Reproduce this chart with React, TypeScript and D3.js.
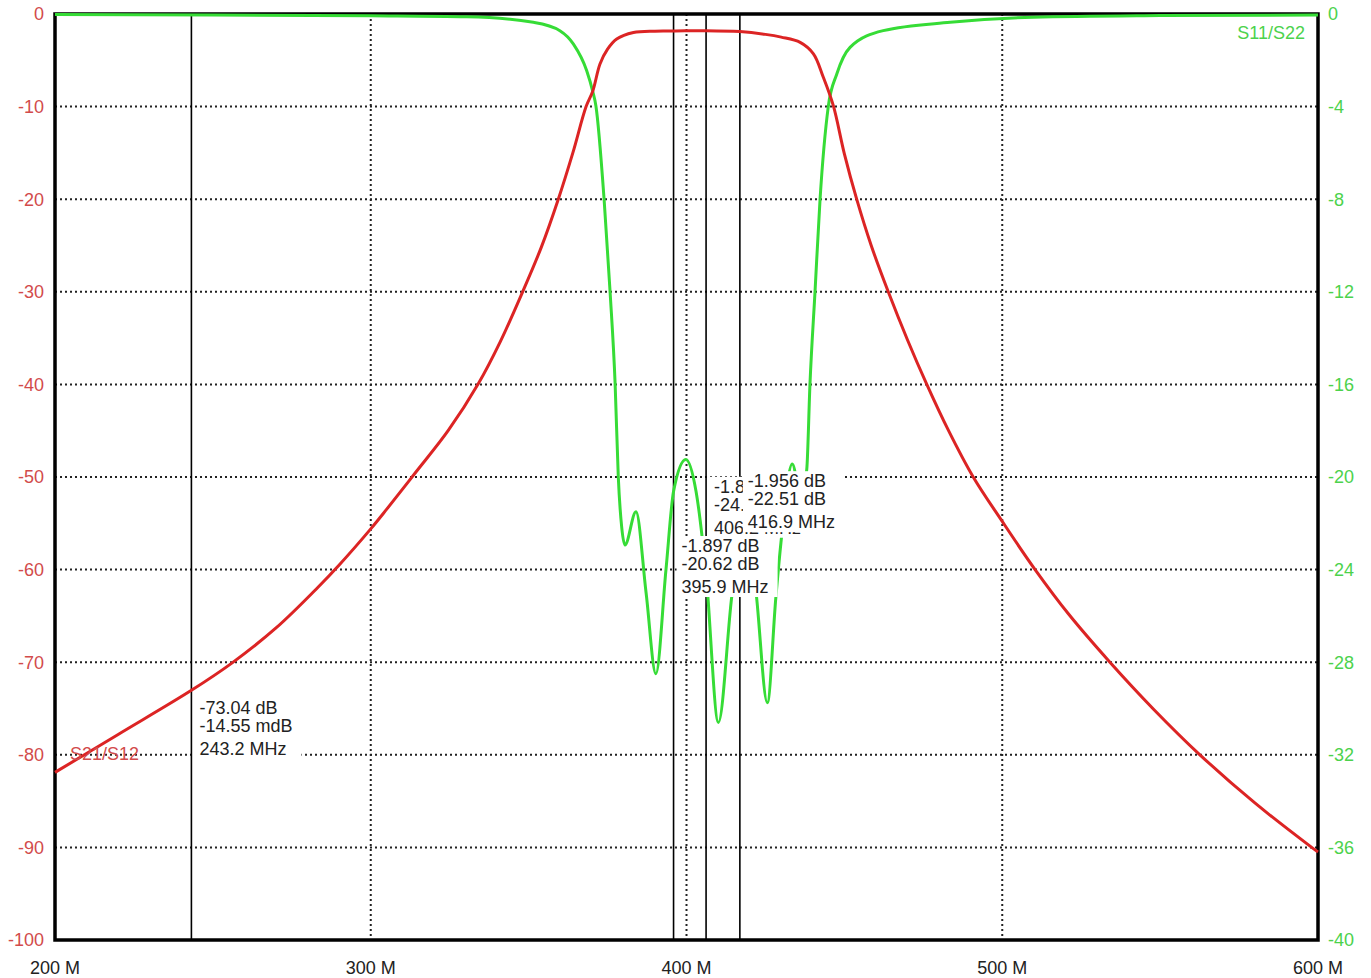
import { useEffect, useRef } from "react";
import * as d3 from "d3";

// S21/S12 transmission (left axis, dB)
const s21Freq = [200, 220, 243.2, 256, 270, 283.3, 290, 300, 305, 314, 324.5, 334.1, 341, 348.1, 354, 359.4, 364, 368.2, 370.3, 372.6, 375, 377.9, 383.2, 390, 395.9, 406.2, 416.9, 425, 430, 436, 440.2, 443.3, 446.5, 450, 453.9, 458.5, 463.9, 470, 476.1, 483, 490.8, 500, 510.4, 521, 534.1, 548, 562.6, 580, 598, 600];
const s21Db = [-81.9, -77.8, -73.04, -70.1, -66.3, -61.9, -59.5, -55.6, -53.5, -49.6, -45.0, -39.9, -35.4, -30, -25.2, -20, -15.0, -10, -8.35, -5.4, -3.8, -2.7, -2.0, -1.85, -1.84, -1.8, -1.9, -2.2, -2.5, -3.06, -4.3, -6.8, -9.9, -15.1, -20, -25.0, -30, -35.2, -40, -45.0, -50, -54.8, -60, -64.8, -70, -75.1, -80, -85.2, -90, -90.5];

// S11/S22 return loss (right axis, dB)
const s11Freq = [200, 250, 300, 330.4, 351.5, 359.9, 364.2, 368.4, 370.3, 371.3, 373.9, 375.8, 377.4, 378.4, 379.5, 380.5, 384.0, 387.2, 390.3, 393.5, 395.9, 399.8, 403, 406.2, 410.1, 414.3, 416.9, 419.4, 422.2, 425.6, 428.3, 429.9, 433.5, 436.3, 438.1, 439.1, 440.7, 442.3, 444.9, 447.6, 451.8, 462.3, 483.5, 509.8, 550, 600];
const s11Db = [-0.02, -0.04, -0.08, -0.12, -0.36, -0.72, -1.3, -2.45, -3.34, -3.96, -8.0, -12, -16, -20, -22.2, -22.94, -21.5, -25, -28.5, -24, -20.62, -19.24, -20.6, -24.2, -30.6, -25.2, -22.51, -21.6, -25.2, -29.75, -25.2, -22.85, -19.44, -21, -19.65, -16, -12, -8, -4, -2.59, -1.44, -0.72, -0.36, -0.14, -0.07, -0.04];

const xTicks = [200, 300, 400, 500, 600];
const xGrid = [300, 400, 500];
const leftTicks = [0, -10, -20, -30, -40, -50, -60, -70, -80, -90, -100];
const rightTicks = [0, -4, -8, -12, -16, -20, -24, -28, -32, -36, -40];

// markers, in drawing order
const markerFreq = [243.2, 406.2, 416.9, 395.9];
const markerLine1 = ["-73.04 dB", "-1.842 dB", "-1.956 dB", "-1.897 dB"];
const markerLine2 = ["-14.55 mdB", "-24.37 dB", "-22.51 dB", "-20.62 dB"];
const markerLine3 = ["243.2 MHz", "406.2 MHz", "416.9 MHz", "395.9 MHz"];
const markerLabelDb = [-75.6, -51.7, -51.1, -58.1];

const W = 1371;
const H = 978;
const FONT = "'Liberation Sans', Arial, sans-serif";
const RED = "#dc2424";
const GREEN = "#36dc36";
const RED_TXT = "#d24b4b";
const GREEN_TXT = "#4cd24c";

export default function App() {
  const svgRef = useRef<SVGSVGElement>(null);

  useEffect(() => {
    if (!svgRef.current) return;
    const svg = d3.select(svgRef.current);
    svg.selectAll("*").remove();

    const left = 55, right = 1318, top = 14, bottom = 940;
    const x = d3.scaleLinear().domain([200, 600]).range([left, right]);
    const yL = d3.scaleLinear().domain([-100, 0]).range([bottom, top]);
    const yR = d3.scaleLinear().domain([-40, 0]).range([bottom, top]);

    svg.append("rect").attr("width", W).attr("height", H).attr("fill", "#fff");

    // dotted grid
    const grid = svg.append("g").attr("stroke", "#222").attr("stroke-width", 2).attr("stroke-dasharray", "2 3");
    grid.selectAll(".hg")
      .data(leftTicks.slice(1, -1))
      .join("line")
      .attr("x1", left).attr("x2", right)
      .attr("y1", (d) => yL(d)).attr("y2", (d) => yL(d));
    grid.selectAll(".vg")
      .data(xGrid)
      .join("line")
      .attr("x1", (d) => x(d)).attr("x2", (d) => x(d))
      .attr("y1", top).attr("y2", bottom);

    // frame
    svg.append("rect")
      .attr("x", left).attr("y", top)
      .attr("width", right - left).attr("height", bottom - top)
      .attr("fill", "none").attr("stroke", "#000").attr("stroke-width", 3.5);

    // marker lines
    svg.selectAll(".marker")
      .data(markerFreq)
      .join("line")
      .attr("x1", (d) => x(d)).attr("x2", (d) => x(d))
      .attr("y1", top).attr("y2", bottom)
      .attr("stroke", "#000").attr("stroke-width", 1.6);

    // curves
    const s21Line = d3.line<number>()
      .x((_, i) => x(s21Freq[i]))
      .y((d) => yL(d))
      .curve(d3.curveCatmullRom.alpha(0.5));
    const s11Line = d3.line<number>()
      .x((_, i) => x(s11Freq[i]))
      .y((d) => yR(d))
      .curve(d3.curveMonotoneX);

    svg.append("path").attr("d", s11Line(s11Db)).attr("fill", "none")
      .attr("stroke", GREEN).attr("stroke-width", 3).attr("stroke-linejoin", "round");
    svg.append("path").attr("d", s21Line(s21Db)).attr("fill", "none")
      .attr("stroke", RED).attr("stroke-width", 3).attr("stroke-linejoin", "round");

    // axis labels
    svg.selectAll(".lt")
      .data(leftTicks)
      .join("text")
      .attr("x", 44).attr("y", (d) => yL(d)).attr("dy", "0.35em")
      .attr("text-anchor", "end").attr("fill", RED_TXT)
      .attr("font-size", 18).attr("font-family", FONT)
      .text((d) => d);
    svg.selectAll(".rt")
      .data(rightTicks)
      .join("text")
      .attr("x", 1328).attr("y", (d) => yR(d)).attr("dy", "0.35em")
      .attr("text-anchor", "start").attr("fill", GREEN_TXT)
      .attr("font-size", 18).attr("font-family", FONT)
      .text((d) => d);
    svg.selectAll(".xt")
      .data(xTicks)
      .join("text")
      .attr("x", (d) => x(d)).attr("y", 974)
      .attr("text-anchor", "middle").attr("fill", "#222")
      .attr("font-size", 18).attr("font-family", FONT)
      .text((d) => `${d} M`);

    // trace names
    svg.append("text").attr("x", 70).attr("y", 760)
      .attr("fill", RED_TXT).attr("font-size", 18).attr("font-family", FONT)
      .text("S21/S12");
    svg.append("text").attr("x", 1305).attr("y", 39).attr("text-anchor", "end")
      .attr("fill", GREEN_TXT).attr("font-size", 18).attr("font-family", FONT)
      .text("S11/S22");

    // marker readouts with white boxes
    markerFreq.forEach((f, i) => {
      const mx = x(f);
      const by = yL(markerLabelDb[i]);
      const g = svg.append("g");
      const box = g.append("rect").attr("fill", "#fff");
      const lines = [markerLine1[i], markerLine2[i], markerLine3[i]];
      const offs = [0, 18, 41];
      let maxW = 0;
      lines.forEach((t, j) => {
        const node = g.append("text")
          .attr("x", mx + 8).attr("y", by + offs[j])
          .attr("fill", "#222").attr("font-size", 18).attr("font-family", FONT)
          .text(t).node() as SVGTextElement;
        maxW = Math.max(maxW, node.getComputedTextLength());
      });
      box.attr("x", mx + 3).attr("y", by - 16)
        .attr("width", maxW + 14).attr("height", 61);
    });
  }, []);

  return (
    <div style={{ position: "absolute", left: 0, top: 0, width: W, height: H }}>
      <svg ref={svgRef} width={W} height={H} />
    </div>
  );
}
